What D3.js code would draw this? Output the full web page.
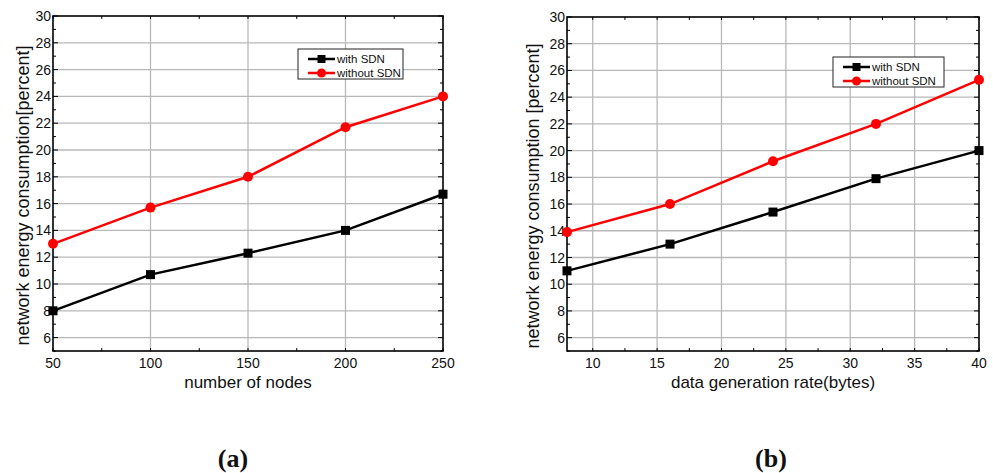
<!DOCTYPE html>
<html lang="en">
<head>
<meta charset="UTF-8">
<title>SDN energy</title>
<script src="https://d3js.org/d3.v7.min.js"></script>
<style>
    body { margin: 0; background: #fff; }
    svg text { font-family: "Liberation Sans", Arial, sans-serif; fill: #111; }
    .cap { font-family: "Liberation Serif", "DejaVu Serif", serif; font-weight: bold; }
</style>
</head>
<body>
<div class="content"></div>
<script>
// chart (a)
var nodes = [50, 100, 150, 200, 250];
var nodesWithSDN = [8.0, 10.7, 12.3, 14.0, 16.7];
var nodesWithoutSDN = [13.0, 15.7, 18.0, 21.7, 24.0];
var nodesTicks = [50, 100, 150, 200, 250];

// chart (b)
var rate = [8, 16, 24, 32, 40];
var rateWithSDN = [11.0, 13.0, 15.4, 17.9, 20.0];
var rateWithoutSDN = [13.9, 16.0, 19.2, 22.0, 25.3];
var rateTicks = [10, 15, 20, 25, 30, 35, 40];

var yTicks = [6, 8, 10, 12, 14, 16, 18, 20, 22, 24, 26, 28, 30];
var legendNames = ["with SDN", "without SDN"];

var svg = d3.select(".content").append("svg")
    .attr("width", 993).attr("height", 473);

function drawPanel(o) {
    var x = d3.scaleLinear().domain(o.xDomain).range([o.left, o.right]);
    var y = d3.scaleLinear().domain([5, 30]).range([o.bottom, o.top]);
    var g = svg.append("g");

    // grid
    g.selectAll(".gx").data(o.xTicks.filter(function(d) { return d > o.xDomain[0] && d < o.xDomain[1]; }))
        .enter().append("line")
        .attr("x1", x).attr("x2", x).attr("y1", o.top).attr("y2", o.bottom)
        .attr("stroke", "#b8b8b8").attr("stroke-width", 1.3);
    g.selectAll(".gy").data(yTicks.filter(function(d) { return d < 30; }))
        .enter().append("line")
        .attr("y1", y).attr("y2", y).attr("x1", o.left).attr("x2", o.right)
        .attr("stroke", "#b8b8b8").attr("stroke-width", 1.3);

    // minor ticks (inside) on all four sides
    var yMinor = d3.range(5, 30.01, 1);
    var xMinor = d3.range(o.xMinorStart, o.xDomain[1] + 0.01, o.xMinorStep);
    g.selectAll(".ml").data(yMinor).enter().append("line")
        .attr("x1", o.left).attr("x2", function(d) { return o.left + (d % 2 === 0 ? 5 : 3); })
        .attr("y1", y).attr("y2", y).attr("stroke", "#000");
    g.selectAll(".mr").data(yMinor).enter().append("line")
        .attr("x1", o.right).attr("x2", function(d) { return o.right - (d % 2 === 0 ? 5 : 3); })
        .attr("y1", y).attr("y2", y).attr("stroke", "#000");
    g.selectAll(".mb").data(xMinor).enter().append("line")
        .attr("x1", x).attr("x2", x).attr("y1", o.bottom).attr("y2", o.bottom - 3).attr("stroke", "#000");
    g.selectAll(".mt").data(xMinor).enter().append("line")
        .attr("x1", x).attr("x2", x).attr("y1", o.top).attr("y2", o.top + 3).attr("stroke", "#000");

    // frame
    g.append("rect").attr("x", o.left).attr("y", o.top)
        .attr("width", o.right - o.left).attr("height", o.bottom - o.top)
        .attr("fill", "none").attr("stroke", "#000").attr("stroke-width", 1.6);

    // tick labels
    g.selectAll(".ty").data(yTicks).enter().append("text")
        .attr("x", o.left - 2).attr("y", y).attr("dy", "0.36em")
        .attr("text-anchor", "end").style("font-size", "14px").text(function(d) { return d; });
    g.selectAll(".tx").data(o.xTicks).enter().append("text")
        .attr("x", x).attr("y", o.bottom + 17)
        .attr("text-anchor", "middle").style("font-size", "14px").text(function(d) { return d; });

    // axis titles
    g.append("text").attr("x", (o.left + o.right) / 2).attr("y", o.bottom + 37)
        .attr("text-anchor", "middle").style("font-size", "17px").text(o.xTitle);
    g.append("text").attr("transform", "translate(" + (o.left - o.yTitleOff) + "," + ((o.top + o.bottom) / 2 + 12) + ") rotate(-90)")
        .attr("text-anchor", "middle").style("font-size", "18px").text(o.yTitle);

    // series
    var line = d3.line().x(function(d) { return x(d[0]); }).y(function(d) { return y(d[1]); });
    var black = d3.zip(o.xs, o.with);
    var red = d3.zip(o.xs, o.without);
    g.append("path").datum(red).attr("d", line).attr("fill", "none")
        .attr("stroke", "#ff0000").attr("stroke-width", 2.5);
    g.append("path").datum(black).attr("d", line).attr("fill", "none")
        .attr("stroke", "#000").attr("stroke-width", 2.5);
    g.selectAll(".pr").data(red).enter().append("circle")
        .attr("cx", function(d) { return x(d[0]); }).attr("cy", function(d) { return y(d[1]); })
        .attr("r", 5).attr("fill", "#ff0000");
    g.selectAll(".pb").data(black).enter().append("rect")
        .attr("x", function(d) { return x(d[0]) - 4.5; }).attr("y", function(d) { return y(d[1]) - 4.5; })
        .attr("width", 9).attr("height", 9).attr("fill", "#000");

    // legend
    var lg = g.append("g").attr("transform", "translate(" + o.legX + "," + o.legY + ")");
    lg.append("rect").attr("x", 0).attr("y", 0).attr("width", o.legW).attr("height", 30)
        .attr("fill", "#fff").attr("stroke", "#222").attr("stroke-width", 1);
    legendNames.forEach(function(name, i) {
        var cy = 10 + i * 14;
        var col = i === 0 ? "#000" : "#ff0000";
        lg.append("line").attr("x1", 10).attr("x2", 37).attr("y1", cy).attr("y2", cy)
            .attr("stroke", col).attr("stroke-width", 2.5);
        if (i === 0) {
            lg.append("rect").attr("x", 19.5).attr("y", cy - 4).attr("width", 8).attr("height", 8).attr("fill", col);
        } else {
            lg.append("circle").attr("cx", 23.5).attr("cy", cy).attr("r", 4.5).attr("fill", col);
        }
        lg.append("text").attr("x", 39).attr("y", cy).attr("dy", "0.35em")
            .style("font-size", "11.5px").text(name);
    });

    svg.append("text").attr("class", "cap").attr("x", o.capX).attr("y", 467)
        .attr("text-anchor", "middle").style("font-size", "26px").text(o.cap);
}

drawPanel({
    left: 53, right: 443, top: 16, bottom: 351,
    xDomain: [50, 250], xTicks: nodesTicks, xMinorStep: 25, xMinorStart: 50,
    xs: nodes, with: nodesWithSDN, without: nodesWithoutSDN,
    xTitle: "number of nodes", yTitle: "network energy consumption[percent]", yTitleOff: 24,
    legX: 298, legY: 49, legW: 105, cap: "(a)", capX: 233
});

drawPanel({
    left: 567, right: 979, top: 17, bottom: 351,
    xDomain: [8, 40], xTicks: rateTicks, xMinorStep: 2.5, xMinorStart: 10,
    xs: rate, with: rateWithSDN, without: rateWithoutSDN,
    xTitle: "data generation rate(bytes)", yTitle: "network energy consumption [percent]", yTitleOff: 28,
    legX: 833, legY: 57, legW: 111, cap: "(b)", capX: 771
});
</script>
</body>
</html>
